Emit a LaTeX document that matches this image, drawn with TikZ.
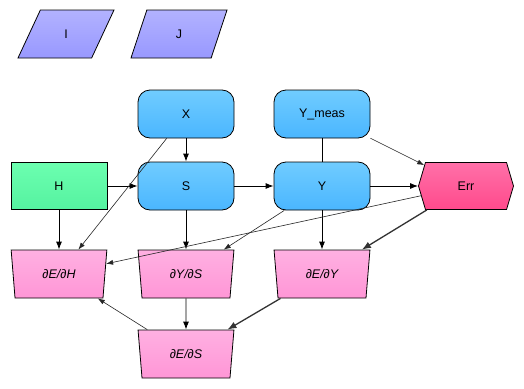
\documentclass[tikz,border=0pt]{standalone}
\usepackage{fontspec}
\setmainfont{Liberation Sans}
\usepackage{tikz}
\usetikzlibrary{arrows.meta,shapes.geometric,shapes.symbols}

\definecolor{inTop}{HTML}{B2B2FF}
\definecolor{inBot}{HTML}{9898FF}
\definecolor{varTop}{HTML}{70CCFF}
\definecolor{varBot}{HTML}{4AB6FF}
\definecolor{srcTop}{HTML}{6CFFB0}
\definecolor{srcBot}{HTML}{55F2A0}
\definecolor{errTop}{HTML}{FF70A8}
\definecolor{errBot}{HTML}{FF4A8C}
\definecolor{grdTop}{HTML}{FFB0E2}
\definecolor{grdBot}{HTML}{FF96D6}

\begin{document}
\begin{tikzpicture}[x=1pt, y=-1pt, >={Latex[length=8pt,width=6pt]},
  every node/.style={font=\fontsize{12.5}{15}\selectfont, inner sep=0pt},
  inbox/.style={draw, line width=0.8pt, trapezium, trapezium left angle=80, trapezium right angle=100,
    trapezium stretches=true, minimum width=96pt, minimum height=48pt, top color=inTop, bottom color=inBot},
  varbox/.style={draw, line width=0.8pt, rounded corners=12pt, minimum width=96pt, minimum height=48pt,
    top color=varTop, bottom color=varBot},
  srcbox/.style={draw, line width=0.8pt, rectangle, minimum width=96pt, minimum height=47pt,
    top color=srcTop, bottom color=srcBot},
  errbox/.style={draw, line width=0.8pt, signal, signal to=west and east, signal pointer angle=147,
    minimum width=95pt, minimum height=47pt, top color=errTop, bottom color=errBot},
  gradbox/.style={draw, line width=0.8pt, trapezium, shape border rotate=180, trapezium angle=81,
    trapezium stretches=true, minimum width=96pt, minimum height=48pt, top color=grdTop, bottom color=grdBot,
    font=\fontsize{12.5}{15}\selectfont\itshape},
  flow/.style={->, line width=0.9pt},
  faint/.style={->, line width=0.6pt, draw=black!85, >={Latex[length=7pt,width=5pt]}},
  strong/.style={->, line width=1.3pt, draw=black!80, >={Latex[length=9pt,width=7pt]}},
]
  \fill[white] (0,0) rectangle (524,388);
  \useasboundingbox (0,0) rectangle (524,388);

  % inputs
  \node[inbox] (I) at (66,34) {I};
  \node[inbox] (J) at (179,34) {J};

  % forward pass
  \node[varbox] (X) at (186,114) {X};
  \node[varbox] (Ymeas) at (322,114) {Y\_meas};
  \node[srcbox] (H) at (59,186) {H};
  \node[varbox] (S) at (186,186) {S};
  \node[varbox] (Y) at (322,186) {Y};
  \node[errbox] (Err) at (466,186) {Err};

  % gradients
  \node[gradbox] (dEdH) at (59,274) {∂E/∂H};
  \node[gradbox] (dYdS) at (186,274) {∂Y/∂S};
  \node[gradbox] (dEdY) at (322,274) {∂E/∂Y};
  \node[gradbox] (dEdS) at (186,354) {∂E/∂S};

  \draw[flow] (X) -- (S);
  \draw[flow] (H) -- (S);
  \draw[flow] (S) -- (Y);
  \draw[flow] (Y) -- (Err);
  \draw[line width=0.9pt] (Ymeas) -- (Y);
  \draw[faint] (Ymeas) -- (Err);

  \draw[flow] (H) -- (dEdH);
  \draw[flow] (S) -- (dYdS);
  \draw[flow] (Y) -- (dEdY);
  \draw[flow] (dYdS) -- (dEdS);
  \draw[faint] (X) -- (dEdH);
  \draw[faint] (Y) -- (dYdS);
  \draw[faint] (Err) -- (dEdH);
  \draw[strong] (Err) -- (dEdY);
  \draw[strong] (dEdY) -- (dEdS);
  \draw[faint] (dEdS) -- (dEdH);
\end{tikzpicture}
\end{document}
